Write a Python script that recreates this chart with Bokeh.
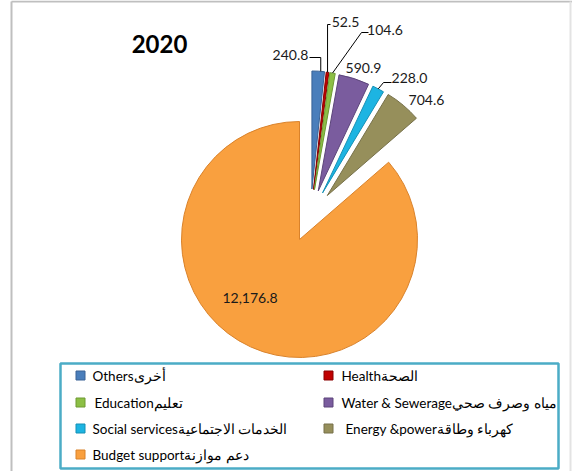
import math
from bokeh.plotting import figure
from bokeh.models import Range1d, ColumnDataSource
from bokeh.core.properties import value
from bokeh.embed import file_html
from bokeh.resources import INLINE

# ---- data ----
categories_en = ["Others", "Health", "Education", "Water & Sewerage",
                 "Social services", "Energy &power", "Budget support"]
categories_ar = ["أخرى", "الصحة", "تعليم", "مياه وصرف صحي",
                 "الخدمات الاجتماعية", "كهرباء وطاقة", "دعم موازنة"]
values = [240.8, 52.5, 104.6, 590.9, 228.0, 704.6, 12176.8]
value_labels = ["240.8", "52.5", "104.6", "590.9", "228.0", "704.6", "12,176.8"]
title_text = "2020"

# ---- styles ----
colors = ["#4A7EBB", "#C00000", "#8CBF45", "#7A5C9E", "#1DB4E2", "#968F5B", "#F9A03F"]
edge_colors = ["#3A6396", "#8A0000", "#6E9A33", "#5C457A", "#1590B5", "#77714A", "#D9822B"]
exploded = [True, True, True, True, True, True, False]

W, H = 572, 471
CX, CY, R, EXPLODE = 299, 232, 118, 52

p = figure(width=W, height=H, x_range=Range1d(0, W), y_range=Range1d(0, H),
           output_backend="svg", toolbar_location=None, min_border=0,
           x_axis_type=None, y_axis_type=None)
p.grid.visible = False
p.outline_line_color = None
p.background_fill_color = "white"
p.border_fill_color = "white"

# chart-area border (left, top, right edges)
p.segment(x0=[11, 11, 570], y0=[0, 470, 0], x1=[11, 572, 570], y1=[470, 470, 470],
          line_color=["#BFBFBF", "#BFBFBF", "#E3E3E3"], line_width=2)

total = sum(values)
starts, ends, mids = [], [], []
cum = 0.0
for v in values:
    a0 = math.pi / 2 - 2 * math.pi * cum / total
    cum += v
    a1 = math.pi / 2 - 2 * math.pi * cum / total
    starts.append(a0)
    ends.append(a1)
    mids.append((a0 + a1) / 2)

# exploded group: each slice pulled out along a direction between its own
# bisector and the bisector of the whole exploded group (perspective look)
g_idx = [i for i, e in enumerate(exploded) if e]
g_mid = (starts[g_idx[0]] + ends[g_idx[-1]]) / 2
xs, ys = [], []
for i, ex in enumerate(exploded):
    if ex:
        a = (mids[i] + g_mid) / 2
        xs.append(CX + EXPLODE * math.cos(a))
        ys.append(CY + EXPLODE * math.sin(a))
    else:
        xs.append(CX)
        ys.append(CY)

src = ColumnDataSource(dict(x=xs, y=ys, start=starts, end=ends,
                            fill=colors, edge=edge_colors))
p.wedge(x="x", y="y", radius=R, start_angle="start", end_angle="end",
        direction="clock", fill_color="fill", line_color="edge", line_width=1,
        source=src)

# value labels
label_x = [290, 345, 384.5, 363, 409, 426, 249.5]
label_y = [417, 450, 442, 404, 394, 372, 174]
p.text(x=label_x, y=label_y, text=value_labels, text_align="center",
       text_baseline="middle", text_font=value("Lato"), text_font_size="14px",
       text_color="#1a1a1a")

# leader lines (from label to outer arc of slice)
def arc_pt(i, t=0.5):
    a = starts[i] + (ends[i] - starts[i]) * t
    return (xs[i] + R * math.cos(a), ys[i] + R * math.sin(a))

lx, ly = [], []
ex_, ey_ = arc_pt(0, 0.7)             # 240.8
lx.append([309, ex_, ex_]); ly.append([414, 414, ey_])
ex_, ey_ = arc_pt(1)                  # 52.5
lx.append([330, ex_, ex_]); ly.append([447, 447, ey_])
ex_, ey_ = arc_pt(2)                  # 104.6
lx.append([368, 361, ex_]); ly.append([439, 439, ey_])
ex_, ey_ = arc_pt(4)                  # 228.0
lx.append([391, 383, ex_]); ly.append([389, 389, ey_])
p.multi_line(xs=lx, ys=ly, line_color="#000000", line_width=1)

# title
p.text(x=[159], y=[428], text=[title_text], text_align="center",
       text_baseline="middle", text_font=value("Lato"), text_font_size="24px",
       text_font_style="bold", text_color="#000000")

# legend box
p.quad(left=[60], right=[558], bottom=[3], top=[108], fill_color="white",
       line_color="#4BACC6", line_width=2.5)

leg_marker_x = [80, 328, 80, 328, 80, 328, 80]
leg_y = [96, 96, 69, 69, 43, 43, 17]
leg_text_x = [92, 341, 94, 341, 92, 345, 92]
leg_labels = [e + a for e, a in zip(categories_en, categories_ar)]
p.scatter(x=leg_marker_x, y=leg_y, marker="square", size=9,
          fill_color=colors, line_color=edge_colors, line_width=1)
p.text(x=leg_text_x, y=leg_y, text=leg_labels, text_align="left",
       text_baseline="middle", text_font=value("Lato"), text_font_size="13.5px",
       text_color="#000000")

open("out.html", "w").write(file_html(p, INLINE))
